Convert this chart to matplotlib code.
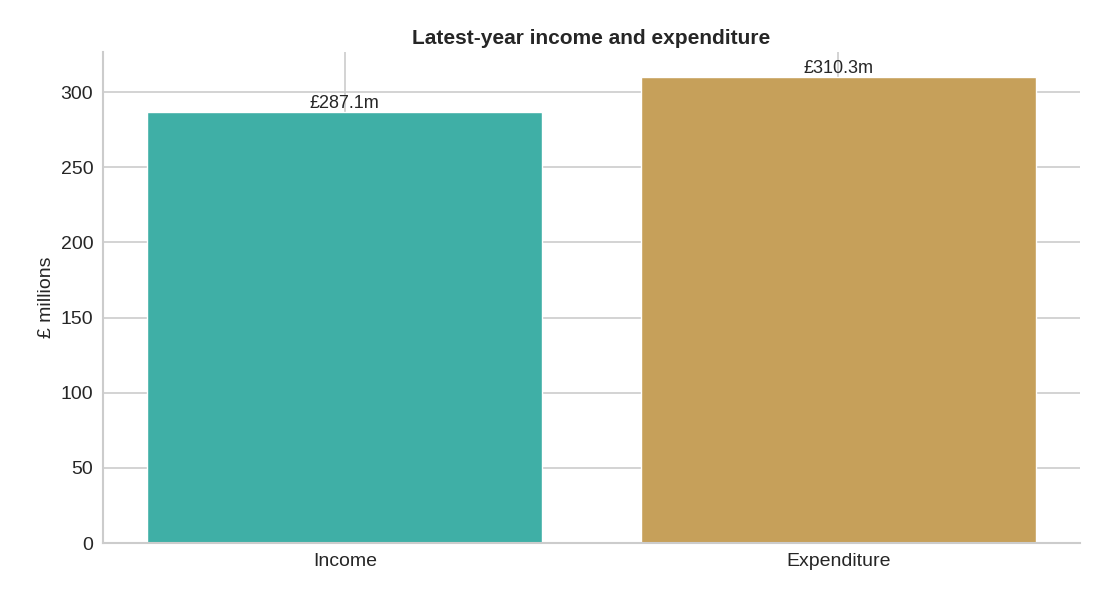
import matplotlib
matplotlib.use("Agg")
import matplotlib.pyplot as plt
import seaborn as sns

categories = ["Income", "Expenditure"]
values = [287.1, 310.3]
labels = ["£287.1m", "£310.3m"]
colors = ["#3fafa6", "#c6a05a"]

sns.set_style("whitegrid")
plt.rcParams['font.family'] = ['Liberation Sans', 'DejaVu Sans']

fig = plt.figure(figsize=(10.98, 5.94), dpi=100)
ax = fig.add_axes([103/1098, 1-543/594, (1080-103)/1098, (543-52)/594])
bars = ax.bar(categories, values, width=0.8, color=colors, zorder=2)
for b, l in zip(bars, labels):
    ax.text(b.get_x()+b.get_width()/2, b.get_height(), l, ha="center", va="bottom",
            fontsize=13, color="#262626", zorder=3)
ax.set_ylim(0, 326.7)
ax.set_xlim(-0.49, 1.49)
ax.set_ylabel("£ millions", fontsize=14, color="#262626")
ax.set_title("Latest-year income and expenditure", fontsize=15, fontweight="bold", color="#262626")
ax.tick_params(axis="both", labelsize=14, colors="#262626")
for s in ["top", "right"]:
    ax.spines[s].set_visible(False)
for s in ["left", "bottom"]:
    ax.spines[s].set_color("#cccccc")
    ax.spines[s].set_linewidth(1.5)
ax.grid(True, color="#cccccc", linewidth=1.2, zorder=0)
ax.set_axisbelow(True)
fig.savefig("out.png", dpi=100)
